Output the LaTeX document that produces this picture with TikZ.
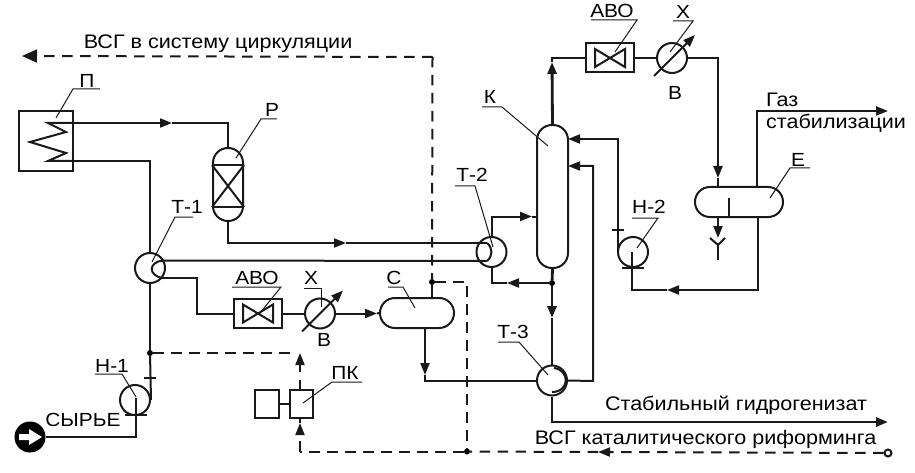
\documentclass[tikz,border=0pt]{standalone}
\usepackage{fontspec}
\setmainfont[FakeStretch=1.1]{Liberation Sans}
\usetikzlibrary{arrows.meta}

\begin{document}
\begin{tikzpicture}[x=1pt, y=-1pt, draw=black!90]
\tikzstyle{pipe}=[line width=2pt, line join=miter]
\tikzstyle{heavy pipe}=[line width=2.8pt]
\tikzstyle{dash pipe}=[line width=2pt, dash pattern=on 10.5pt off 7.5pt]
\tikzstyle{leader}=[line width=1pt]
\tikzstyle{flow}=[-{Stealth[length=12pt, width=9pt, inset=0pt]}]
\tikzstyle{big flow}=[-{Stealth[length=15pt, width=13pt, inset=0pt]}]
\tikzstyle{unit}=[rectangle, draw=black!90, line width=2pt, fill=white, inner sep=0pt]
\tikzstyle{ball}=[circle, draw=black!90, line width=2pt, inner sep=0pt, minimum size=30pt]
\tikzstyle{drum}=[unit, rounded corners=14.9pt]
\tikzstyle{dot}=[circle, fill=black, inner sep=0pt, minimum size=6pt]
\tikzstyle{tag}=[inner sep=0pt, font=\fontsize{19}{19}\selectfont]
\tikzstyle{title}=[inner sep=0pt, font=\fontsize{19.6}{19.6}\selectfont]

\useasboundingbox (0, 0) rectangle (915, 473);

% Draw the apparatus
\node[unit, minimum width=54pt, minimum height=60pt] (furnace) at (46, 141) {};
\node[drum, minimum width=30pt, minimum height=73pt] (reactor) at (228, 184.5) {};
\node[drum, minimum width=31pt, minimum height=143pt] (column) at (552.5, 196.5) {};
\node[drum, minimum width=74pt, minimum height=30pt] (separator) at (417, 313) {};
\node[drum, minimum width=88pt, minimum height=30pt] (receiver) at (739, 202) {};
\node[ball] (tone) at (150, 268) {};
\node[ball] (ttwo) at (491.5, 252) {};
\node[ball] (tthree) at (552, 380.5) {};
\node[ball] (hone) at (135, 400) {};
\node[ball] (htwo) at (633, 252) {};
\node[unit, minimum width=23pt, minimum height=28pt] (relief) at (301.5, 404) {};
\node[unit, minimum width=24pt, minimum height=28pt] (reliefbox) at (267, 404) {};
\node[circle, fill=black, inner sep=0pt, minimum size=31pt] (feed) at (30, 437) {};

% air coolers and water coolers come in pairs
\foreach \aname/\ax/\ay/\cname/\cx in {avolow/258/313.5/xlow/320, avotop/610/58/xtop/672} {
    \node[unit, minimum width=48pt, minimum height=29pt] (\aname) at (\ax, \ay) {};
    \draw[pipe] (\ax-15, \ay-9) -- (\ax+15, \ay+9) -- (\ax+15, \ay-9) -- (\ax-15, \ay+9) -- cycle;
    \node[ball] (\cname) at (\cx, \ay) {};
    \coordinate (\cname a) at (\cx-18, \ay+18);
    \coordinate (\cname b) at (\cx+23, \ay-23);
    \draw[pipe, flow] (\cname a) -- (\cname b);
    \draw[pipe] (\aname.east) -- (\cname.west);
}

% Draw the inner parts
\coordinate (coilin) at (73, 123);
\coordinate (coilout) at (73, 161);
\draw[pipe] (coilin) -- (48, 123) -- (66, 132) -- (30, 142) -- (66, 153) -- (48, 161) -- (coilout);
\draw[pipe] (reactor.west |- 0, 165) -- (reactor.east |- 0, 165);
\draw[pipe] (reactor.west |- 0, 207) -- (reactor.east |- 0, 207);
\draw[pipe] (reactor.west |- 0, 165) -- (reactor.east |- 0, 207);
\draw[pipe] (reactor.east |- 0, 165) -- (reactor.west |- 0, 207);
\draw[pipe] (729, 198) -- (729, 217);
\fill[white] (19, 434) -- (29, 434) -- (29, 429) -- (42, 437) -- (29, 445) -- (29, 440) -- (19, 440) -- cycle;

\coordinate (toneup) at (163, 260.5);
\coordinate (tonedown) at (163, 278);
\coordinate (ttwoup) at (487, 243);
\coordinate (ttwodown) at (487, 261);
\draw[pipe] (toneup) .. controls (148, 262) and (148, 276) .. (tonedown);
\draw[pipe] (ttwoup) .. controls (493, 248) and (493, 256) .. (ttwodown);
\draw[pipe] (554, 368) .. controls (570, 370) and (570, 392) .. (552, 392);

% Draw the solid lines
\coordinate (flowa) at (172, 123);
\draw[pipe, flow] (coilin) -- (flowa);
\draw[pipe] (flowa) -| (reactor.north);
\draw[pipe] (coilout) -| (tone.north);
\coordinate (flowb) at (346, 243);
\draw[pipe, flow] (reactor.south) |- (flowb);
\draw[pipe] (flowb) -- (ttwoup);
\draw[pipe] (toneup) -- (ttwodown);

\coordinate (bendt) at (197, 278);
\draw[pipe] (tonedown) -- (bendt) |- (avolow.west);
\coordinate (flowc) at (377, 313.5);
\draw[pipe, flow] (xlow.east) -- (flowc);
\draw[pipe] (flowc) -- (separator.west);

\node[dot] (dothot) at (432, 282) {};
\draw[pipe] (dothot) -- (separator.north -| dothot);
\coordinate (sepout) at (425, 328);
\coordinate (flowd) at (425, 375);
\draw[pipe, flow] (sepout) -- (flowd);
\draw[pipe] (flowd) |- (tthree.west);

\node[dot] (dotcol) at (552, 283) {};
\coordinate (flowe) at (507, 283);
\draw[pipe, flow] (dotcol) -- (flowe);
\draw[pipe] (flowe) -| (ttwo.south);
\draw[heavy pipe] (column.south) -- (dotcol);
\coordinate (flowf) at (552, 318);
\draw[heavy pipe, flow] (dotcol) -- (flowf);
\draw[heavy pipe] (flowf) -- (tthree.north);
\coordinate (flowg) at (552, 62);
\draw[heavy pipe, flow] (column.north) -- (flowg);
\draw[pipe] (flowg) |- (avotop.west);

\coordinate (flowh) at (532, 216.5);
\coordinate (inlow) at (537, 216.5);
\draw[pipe, flow] (ttwo.north) |- (flowh);
\draw[pipe] (flowh) -- (inlow);
\coordinate (inmid) at (568, 166);
\coordinate (bendb) at (593, 381);
\draw[pipe, flow] (tthree.east) -- (bendb) |- (inmid);
\coordinate (intop) at (568, 139);
\coordinate (bendp) at (617.5, 252);
\draw[pipe, flow] (bendp) |- (intop);

\coordinate (flowj) at (718, 178);
\draw[pipe, flow] (xtop.east) -| (flowj);
\draw[pipe] (flowj) -- (receiver.north -| flowj);
\coordinate (gasout) at (757, 187);
\coordinate (gasend) at (888, 111);
\draw[pipe, flow] (gasout) |- (gasend);
\coordinate (drainin) at (718, 217);
\coordinate (drainout) at (718, 238);
\draw[pipe, flow] (drainin) -- (drainout);
\coordinate (drainfork) at (718, 245);
\draw[pipe] (710, 238) -- (drainfork) -- (725, 238);
\draw[pipe] (drainfork) -- (718, 260);

\coordinate (backout) at (758, 217);
\coordinate (flowk) at (667, 290);
\coordinate (hoin) at (632, 252);
\draw[pipe, flow] (backout) |- (flowk);
\draw[pipe] (flowk) -| (hoin);

\draw[pipe] (tone.south) -- (150, 353);
\node[dot] (dotfeed) at (150, 353) {};
\draw[pipe] (dotfeed) -- (hone.east);
\coordinate (feedpump) at (135.5, 398);
\draw[pipe] (feed) -| (feedpump);
\draw[pipe] (144, 378) -- (156, 378);
\draw[pipe] (612, 230) -- (624, 230);
\draw[pipe] (125, 415) -- (147, 415);
\draw[pipe] (622, 268) -- (644, 268);
\coordinate (prodend) at (888, 422);
\draw[heavy pipe, flow] (tthree.south) |- (prodend);
\draw[pipe] (reliefbox.east) -- (relief.west);

% Draw the dashed lines
\coordinate (dashtop) at (432.5, 57);
\coordinate (dashend) at (22, 56);
\draw[dash pipe, big flow] (dashtop) -- (dashend);
\draw[dash pipe] (dashtop) -- (dothot);
\coordinate (dashbend) at (467, 282);
\node[dot] (dotlow) at (467, 451.5) {};
\draw[dash pipe] (dothot) -- (dashbend) -- (dotlow);
\node[circle, draw=black!90, line width=2pt, fill=white, inner sep=0pt, minimum size=7pt] (inlet) at (888, 453) {};
\coordinate (flowm) at (598, 452);
\draw[dash pipe, flow] (inlet) -- (flowm);
\draw[dash pipe] (flowm) -- (dotlow);
\coordinate (lowbend) at (300, 451.5);
\coordinate (lowstop) at (300, 423);
\draw[dash pipe] (dotlow) -- (lowbend);
\draw[pipe] (lowbend) -- (300, 441);
\draw[pipe, flow] (300, 434) -- (lowstop);
\draw[pipe] (lowstop) -- (300, 418);
\coordinate (relieftop) at (300, 380);
\draw[pipe] (300, 390) -- (relieftop);
\coordinate (uptip) at (300, 353);
\draw[pipe, flow] (300, 372) -- (uptip);
\coordinate (dashstop) at (296, 353);
\draw[dash pipe] (dotfeed) -- (dashstop);

% Draw the labels with their leaders
\foreach \lname/\ltext/\lx/\ly/\uy/\ua/\ub/\tx/\ty in {
    lfurnace/П/87/81/89/100/73/56/118,
    lreactor/Р/272/110/119/277/261/236/158,
    ltone/Т-1/187/207/217/193/175/152/262,
    lavolow/АВО/257/278/287/232/281/260/313,
    lxlow/Х/311/278/288/304/321/321/307,
    lsep/С/394/278/287/388/403/415/308,
    lhone/Н-1/112/366/374/95/122/136/397,
    lrelief/ПК/345/373/382/362/332/303/403,
    lavotop/АВО/612/11/20/591/637/615/52,
    lxtop/Х/683/12/21/673/693/670/52,
    lcolumn/К/490/97/107/482/502/548/146,
    lttwo/Т-2/472/175/186/455/475/493/247,
    lreceiver/Е/798/160/168/810/790/770/198,
    lhtwo/Н-2/649/207/218/632/658/637/248,
    ltthree/Т-3/513/332/342/498/519/548/375} {
    \node[tag] (\lname) at (\lx, \ly) {\ltext};
    \draw[leader] (\ua, \uy) -- (\ub, \uy) -- (\tx, \ty);
}
\node[tag] (wlow) at (324, 340) {В};
\node[tag] (wtop) at (675, 93) {В};
\node[tag] (feedname) at (83, 420) {СЫРЬЕ};
\node[title] (recycle) at (218, 44) {ВСГ в систему циркуляции};
\node[title, anchor=west] (gasa) at (766, 100) {Газ};
\node[title, anchor=west] (gasb) at (766, 123) {стабилизации};
\node[title] (product) at (736, 405) {Стабильный гидрогенизат};
\node[title] (reform) at (705.5, 439) {ВСГ каталитического риформинга};

\end{tikzpicture}
\end{document}
